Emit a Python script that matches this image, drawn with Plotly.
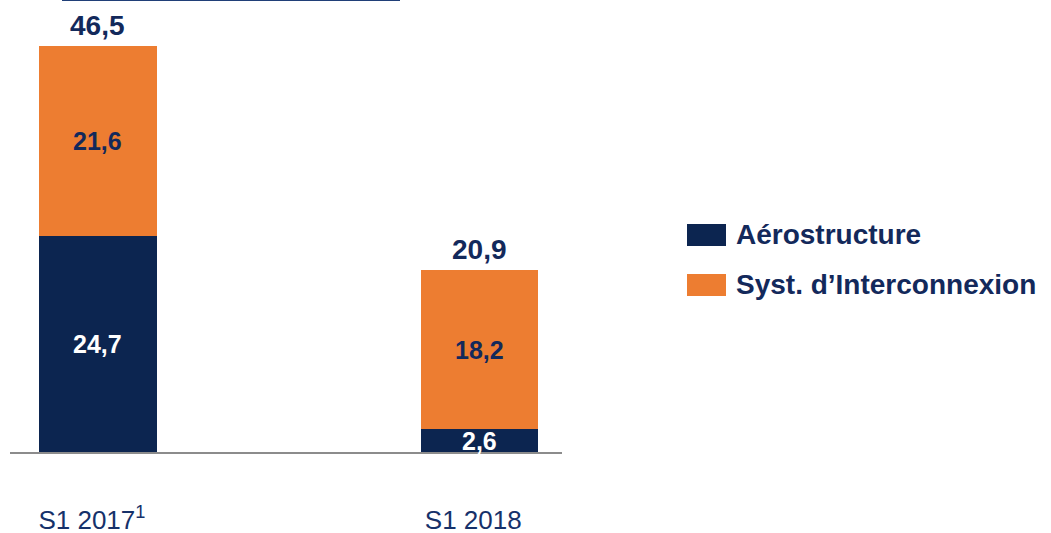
import plotly.graph_objects as go

categories = ["S1 2017<sup>1</sup>", "S1 2018"]
series_names = ["Aérostructure", "Syst. d’Interconnexion"]
aero = [24.7, 2.6]
interco = [21.6, 18.2]
totals = [46.5, 20.9]

series_values = [aero, interco]
series_colors = ["#0c2550", "#ed7d31"]
label_colors = ["#ffffff", "#13295b"]
navy_text = "#13295b"
FONT = "Liberation Sans, Arial, sans-serif"

def fmt(v):
    return f"{v:.1f}".replace(".", ",")

xs = list(range(len(categories)))
fig = go.Figure()
for name, vals, col in zip(series_names, series_values, series_colors):
    fig.add_trace(go.Bar(x=xs, y=vals, name=name, marker=dict(color=col, line=dict(width=0)),
                         width=0.308, hoverinfo="skip"))

annotations = []
# inner labels
for si, vals in enumerate(series_values):
    for i, v in enumerate(vals):
        base = sum(series_values[k][i] for k in range(si))
        annotations.append(dict(x=xs[i], y=base + v / 2, xref="x", yref="y", text=f"<b>{fmt(v)}</b>",
                                showarrow=False, yanchor="middle",
                                font=dict(family=FONT, size=25, color=label_colors[si])))
# totals
for i in xs:
    top = sum(s[i] for s in series_values)
    annotations.append(dict(x=i, y=top, xref="x", yref="y", text=f"<b>{fmt(totals[i])}</b>",
                            showarrow=False, yanchor="bottom", yshift=3,
                            font=dict(family=FONT, size=28, color=navy_text)))

# manual legend
L, PW, PH = 10, 552, 452
def px_x(p):
    return (p - L) / PW
def px_y(p):
    return (PH - p) / PH

shapes = []
leg_top = [224, 274]
for k, (name, col) in enumerate(zip(series_names, series_colors)):
    shapes.append(dict(type="rect", xref="paper", yref="paper", x0=px_x(687), x1=px_x(726),
                       y0=px_y(leg_top[k] + 22), y1=px_y(leg_top[k]), fillcolor=col, line=dict(width=0)))
    annotations.append(dict(x=px_x(734), y=px_y(leg_top[k] + 10), xref="paper", yref="paper",
                            xanchor="left", yanchor="middle", showarrow=False, text=f"<b>{name}</b>",
                            font=dict(family=FONT, size=28, color=navy_text)))

# decorative top line
shapes.append(dict(type="line", xref="paper", yref="paper", x0=px_x(62), x1=px_x(400), y0=1, y1=1,
                   line=dict(color="#203f78", width=2)))

fig.update_layout(
    width=1051, height=533,
    margin=dict(l=L, r=1051 - L - PW, t=0, b=533 - PH, autoexpand=False),
    barmode="stack", showlegend=False,
    plot_bgcolor="white", paper_bgcolor="white",
    annotations=annotations, shapes=shapes,
    xaxis=dict(range=[-0.2305, 1.2169], tickvals=xs, ticktext=categories, showgrid=False,
               zeroline=False, showline=True, linecolor="#8c8c8c", linewidth=1.5, ticks="",
               automargin=False, ticklabelshift=-6,
               ticklabelstandoff=44, tickfont=dict(family=FONT, size=26, color="#16316a")),
    yaxis=dict(range=[0, 51.6], visible=False, showgrid=False, zeroline=False, automargin=False),
)

fig.write_html("out.html", config={"displayModeBar": False},
               post_script="document.body.style.margin='0';document.body.style.overflow='hidden';")
